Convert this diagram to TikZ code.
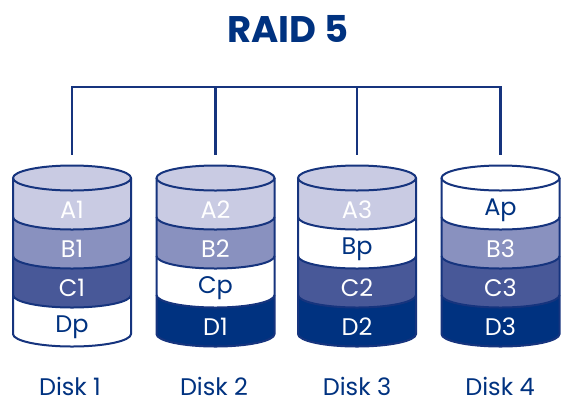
\documentclass[tikz,border=0pt]{standalone}
\usepackage{fontspec}
\setmainfont{Poppins}
\definecolor{navy}{RGB}{0,50,128}
\definecolor{ol}{RGB}{22,52,126}
\definecolor{cA}{RGB}{201,203,227}
\definecolor{cB}{RGB}{137,145,191}
\definecolor{cC}{RGB}{72,88,152}
\definecolor{cD}{RGB}{0,50,128}
\tikzset{
  lab/.style={font=\fontsize{24}{24}\selectfont, inner sep=0pt, anchor=center},
  olline/.style={draw=ol, line width=2pt},
  bus/.style={draw=ol, line width=2.2pt},
}
\newcommand\band[5]{%
  \pgfmathsetmacro\bt{178+39*#2}%
  \fill[#3] (#1-59,\bt) -- (#1-59,\bt+39) arc[start angle=180,end angle=0,x radius=59,y radius=12.5] -- (#1+59,\bt) arc[start angle=0,end angle=-180,x radius=59,y radius=12.5] -- cycle;
  \node[lab,text=#4] (#5) at (#1,\bt+32) {#5};
}
\newcommand\cylout[1]{%
  \draw[olline] (#1-59,178) -- (#1-59,334) arc[start angle=180,end angle=0,x radius=59,y radius=12.5] -- (#1+59,178);
  \foreach \yy in {217,256,295}{\draw[olline] (#1-59,\yy) arc[start angle=180,end angle=0,x radius=59,y radius=12.5];}
  \draw[olline] (#1,178) ellipse[x radius=59,y radius=12.5];
}
\begin{document}
\begin{tikzpicture}[x=1pt,y=-1pt]
\useasboundingbox[fill=white] (0,0) rectangle (577,402);
\node[text=navy, font=\fontsize{37}{37}\selectfont\bfseries, inner sep=0pt] (title) at (288,29) {RAID 5};
% disk 1
\band{72}{3}{white}{navy}{Dp}
\band{72}{2}{cC}{white}{C1}
\band{72}{1}{cB}{white}{B1}
\band{72}{0}{cA}{white}{A1}
\cylout{72}
% disk 2
\band{215.5}{3}{cD}{white}{D1}
\band{215.5}{2}{white}{navy}{Cp}
\band{215.5}{1}{cB}{white}{B2}
\band{215.5}{0}{cA}{white}{A2}
\cylout{215.5}
% disk 3
\band{357}{3}{cD}{white}{D2}
\band{357}{2}{cC}{white}{C2}
\band{357}{1}{white}{navy}{Bp}
\band{357}{0}{cA}{white}{A3}
\cylout{357}
% disk 4
\band{500.5}{3}{cD}{white}{D3}
\band{500.5}{2}{cC}{white}{C3}
\band{500.5}{1}{cB}{white}{B3}
\band{500.5}{0}{white}{navy}{Ap}
\cylout{500.5}
% bus
\coordinate (b1) at (72,87);
\coordinate (b2) at (215.5,87);
\coordinate (b3) at (357,87);
\coordinate (b4) at (500.5,87);
\coordinate (t1) at (72,155);
\coordinate (t2) at (215.5,155);
\coordinate (t3) at (357,155);
\coordinate (t4) at (500.5,155);
\draw[bus, line cap=rect] (b1) -- (b4);
\foreach \i in {1,...,4}{\draw[bus] (b\i) -- (t\i);}
% labels
\node[lab,text=navy] (d1) at (70,386) {Disk 1};
\node[lab,text=navy] (d2) at (214,386) {Disk 2};
\node[lab,text=navy] (d3) at (357,386) {Disk 3};
\node[lab,text=navy] (d4) at (500,386) {Disk 4};
\end{tikzpicture}
\end{document}
